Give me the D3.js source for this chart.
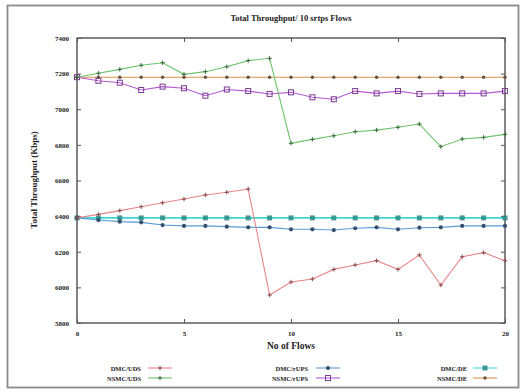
<!DOCTYPE html>
<html>
<head>
<meta charset="utf-8">
<script src="https://cdn.jsdelivr.net/npm/d3@7/dist/d3.min.js"></script>
<style>
  html, body { margin: 0; padding: 0; background: #fff; }
  svg { display: block; }
  text { font-family: "Liberation Serif", "DejaVu Serif", serif; font-weight: bold; fill: #222; }
</style>
</head>
<body>
<svg id="chart" width="524" height="392"></svg>
<script>
// Number of flows on the x axis
const flows = d3.range(0, 21);

// Throughput per scheme (Kbps)
const dmcUds   = [6390, 6410, 6431, 6453, 6475, 6496, 6519, 6534, 6552, 5957, 6030, 6047, 6101, 6126, 6150, 6101, 6182, 6013, 6172, 6195, 6150];
const nsmcUds  = [7180, 7202, 7224, 7247, 7261, 7196, 7211, 7239, 7273, 7286, 6809, 6831, 6851, 6874, 6883, 6899, 6917, 6790, 6833, 6842, 6859];
const dmcRups  = [6390, 6378, 6369, 6365, 6350, 6345, 6345, 6341, 6337, 6337, 6326, 6326, 6322, 6332, 6337, 6326, 6335, 6337, 6345, 6345, 6345];
const nsmcRups = [7180, 7160, 7149, 7108, 7127, 7118, 7076, 7111, 7102, 7086, 7095, 7067, 7056, 7102, 7089, 7102, 7086, 7089, 7089, 7089, 7102];
const dmcDe    = [6390, 6390, 6390, 6390, 6390, 6390, 6390, 6390, 6390, 6390, 6390, 6390, 6390, 6390, 6390, 6390, 6390, 6390, 6390, 6390, 6390];
const nsmcDe   = [7180, 7180, 7180, 7180, 7180, 7180, 7180, 7180, 7180, 7180, 7180, 7180, 7180, 7180, 7180, 7180, 7180, 7180, 7180, 7180, 7180];

const seriesNames = ["DMC/UDS", "NSMC/UDS", "DMC/rUPS", "NSMC/rUPS", "DMC/DE", "NSMC/DE"];
const xTicks = [0, 5, 10, 15, 20];
const yTicks = [5800, 6000, 6200, 6400, 6600, 6800, 7000, 7200, 7400];

const series = [
  { name: seriesNames[0], values: dmcUds,   color: "#e8868a", mark: "#8a4a4a", shape: "plus" },
  { name: seriesNames[1], values: nsmcUds,  color: "#6cc46c", mark: "#3c6a3c", shape: "plus" },
  { name: seriesNames[2], values: dmcRups,  color: "#5b9bd8", mark: "#36506e", shape: "star" },
  { name: seriesNames[3], values: nsmcRups, color: "#b45ad2", mark: "#7a3a90", shape: "box" },
  { name: seriesNames[4], values: dmcDe,    color: "#3fd6d0", mark: "#2a8a86", shape: "fbox" },
  { name: seriesNames[5], values: nsmcDe,   color: "#d9904a", mark: "#6a5040", shape: "dot" }
];

const svg = d3.select("#chart");
const m = { left: 77, right: 505, top: 38, bottom: 323 };

// outer frame
svg.append("rect").attr("x", 7.5).attr("y", 5.5).attr("width", 511).attr("height", 382)
  .attr("fill", "none").attr("stroke", "#8a8a8a").attr("stroke-width", 1.8);

const x = d3.scaleLinear().domain([0, 20]).range([m.left, m.right]);
const y = d3.scaleLinear().domain([5800, 7400]).range([m.bottom, m.top]);

// plot border
svg.append("rect").attr("x", m.left).attr("y", m.top)
  .attr("width", m.right - m.left).attr("height", m.bottom - m.top)
  .attr("fill", "none").attr("stroke", "#333").attr("stroke-width", 1.2);

// axes with inner ticks (mirrored on opposite sides)
const axisStyle = g => {
  g.select(".domain").remove();
  g.selectAll(".tick line").attr("stroke", "#555");
  g.selectAll(".tick text").attr("font-size", 7).attr("font-family", "Liberation Serif, serif").attr("font-weight", "bold").attr("fill", "#333");
};
svg.append("g").attr("transform", `translate(0,${m.bottom})`)
  .call(d3.axisBottom(x).tickValues(xTicks).tickSize(-4).tickPadding(8).tickFormat(d3.format("d")))
  .call(axisStyle);
svg.append("g").attr("transform", `translate(0,${m.top})`)
  .call(d3.axisTop(x).tickValues(xTicks).tickSize(-4).tickFormat(""))
  .call(axisStyle);
svg.append("g").attr("transform", `translate(${m.left},0)`)
  .call(d3.axisLeft(y).tickValues(yTicks).tickSize(-4).tickPadding(8).tickFormat(d3.format("d")))
  .call(axisStyle);
svg.append("g").attr("transform", `translate(${m.right},0)`)
  .call(d3.axisRight(y).tickValues(yTicks).tickSize(-4).tickFormat(""))
  .call(axisStyle);

// titles
svg.append("text").attr("x", 291).attr("y", 21).attr("text-anchor", "middle")
  .attr("font-size", 8.5).text("Total Throughput/ 10 srtps Flows");
svg.append("text").attr("x", 291).attr("y", 349).attr("text-anchor", "middle")
  .attr("font-size", 9.5).text("No of Flows");
svg.append("text").attr("transform", "translate(37,180) rotate(-90)").attr("text-anchor", "middle")
  .attr("font-size", 9).attr("fill", "#444").text("Total Throughput (Kbps)");

// marker drawing
function marker(g, shape, color, cx, cy) {
  if (shape === "plus") {
    g.append("path").attr("d", `M${cx-2.2},${cy}H${cx+2.2}M${cx},${cy-2.2}V${cy+2.2}`)
      .attr("stroke", color).attr("stroke-width", 1);
  } else if (shape === "star") {
    g.append("path").attr("d", d3.symbol(d3.symbolCircle, 14)()).attr("transform", `translate(${cx},${cy})`)
      .attr("fill", color);
  } else if (shape === "box") {
    g.append("rect").attr("x", cx - 2.5).attr("y", cy - 2.5).attr("width", 5).attr("height", 5)
      .attr("fill", "none").attr("stroke", color).attr("stroke-width", 1);
  } else if (shape === "fbox") {
    g.append("rect").attr("x", cx - 2.5).attr("y", cy - 2.5).attr("width", 5).attr("height", 5)
      .attr("fill", color).attr("opacity", 0.85);
  } else {
    g.append("circle").attr("cx", cx).attr("cy", cy).attr("r", 1.7).attr("fill", color);
  }
}

const line = d3.line().x((d, i) => x(flows[i])).y(d => y(d));

// draw order keeps the light lines beneath
const order = [4, 2, 5, 3, 1, 0];
order.forEach(k => {
  const s = series[k];
  const g = svg.append("g");
  g.append("path").datum(s.values).attr("d", line)
    .attr("fill", "none").attr("stroke", s.color).attr("stroke-width", k === 4 ? 1.6 : 1.1);
  s.values.forEach((v, i) => marker(g, s.shape, s.mark, x(flows[i]), y(v)));
});

// legend: three columns of two rows
const legendCols = [{ tx: 141, lx: 148 }, { tx: 308, lx: 316 }, { tx: 467, lx: 473 }];
const legendRows = [368, 378];
series.forEach((s, i) => {
  const col = legendCols[Math.floor(i / 2)];
  const ry = legendRows[i % 2];
  const g = svg.append("g");
  g.append("text").attr("x", col.tx).attr("y", ry + 2.5).attr("text-anchor", "end")
    .attr("font-size", 6.5).text(s.name);
  g.append("line").attr("x1", col.lx).attr("x2", col.lx + 24).attr("y1", ry).attr("y2", ry)
    .attr("stroke", s.color).attr("stroke-width", 1.1);
  marker(g, s.shape, s.mark, col.lx + 12, ry);
});
</script>
</body>
</html>
